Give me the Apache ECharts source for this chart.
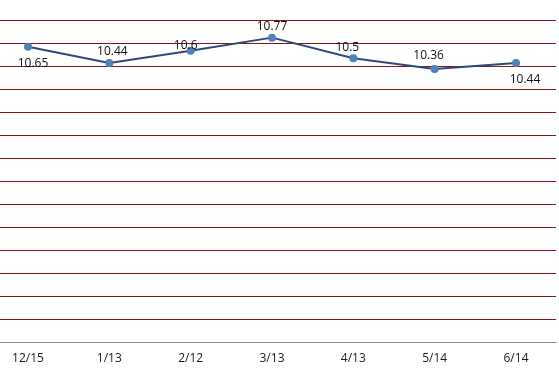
<!DOCTYPE html>
<html>
<head>
<meta charset="utf-8">
<script src="https://cdn.jsdelivr.net/npm/echarts@6/dist/echarts.min.js"></script>
<style>
  html, body { margin: 0; padding: 0; background: #fff; }
  #chart { width: 559px; height: 376px; }
</style>
</head>
<body>
<div id="chart"></div>
<script>
// chart data
const months = ['12/15', '1/13', '2/12', '3/13', '4/13', '5/14', '6/14'];
const values = [10.65, 10.44, 10.6, 10.77, 10.5, 10.36, 10.44];

// y axis scale (no labels shown, only the red grid lines)
const yMin = 6.8;
const yMax = 11.0;
const yStep = 0.3;

const chart = echarts.init(document.getElementById('chart'), null, { renderer: 'canvas' });

// where each value label sits, like in the original (below / above, small nudges)
const labelPlace = [
  { position: 'bottom', offset: [5, 4] },
  { position: 'top', offset: [3, 2] },
  { position: 'top', offset: [-5, 8] },
  { position: 'top', offset: [0, 2] },
  { position: 'top', offset: [-6, 2] },
  { position: 'top', offset: [-6, 0] },
  { position: 'bottom', offset: [9, 4] }
];

const seriesData = values.map((v, i) => ({
  value: v,
  label: {
    show: true,
    position: labelPlace[i].position,
    offset: labelPlace[i].offset,
    distance: 3
  }
}));

const gridRed = '#8b1414';

const option = {
  animation: false,
  grid: [
    // full width grid: red lines + grey base line
    { left: 0, right: 3, top: 20, bottom: 34 },
    // plot grid for the line, first/last point at the band centres
    { left: 28, right: 43, top: 20, bottom: 34 }
  ],
  xAxis: [{
    gridIndex: 0,
    type: 'category',
    data: months,
    axisLine: { lineStyle: { color: '#8c8c8c', width: 1 } },
    axisTick: { show: false },
    axisLabel: { show: false },
    splitLine: { show: false }
  }, {
    gridIndex: 1,
    type: 'category',
    data: months,
    boundaryGap: false,
    axisLine: { show: false },
    axisTick: { show: false },
    splitLine: { show: false },
    axisLabel: {
      color: '#1a1a1a',
      fontFamily: 'Open Sans',
      fontSize: 12,
      margin: 11
    }
  }],
  yAxis: [{
    gridIndex: 0,
    type: 'value',
    min: yMin,
    max: yMax,
    interval: yStep,
    axisLine: { show: false },
    axisTick: { show: false },
    axisLabel: { show: false },
    splitLine: { show: true, interval: 0, lineStyle: { color: gridRed, width: 1 } }
  }, {
    gridIndex: 1,
    type: 'value',
    min: yMin,
    max: yMax,
    interval: yStep,
    axisLine: { show: false },
    axisTick: { show: false },
    axisLabel: { show: false },
    splitLine: { show: false }
  }],
  series: [{
    type: 'line',
    xAxisIndex: 1,
    yAxisIndex: 1,
    data: seriesData,
    symbol: 'circle',
    symbolSize: 8,
    lineStyle: { color: '#2c4a7c', width: 2 },
    itemStyle: { color: '#4f81bd' },
    label: {
      color: '#111',
      fontFamily: 'Open Sans',
      fontSize: 12
    }
  }]
};

chart.setOption(option);
</script>
</body>
</html>
